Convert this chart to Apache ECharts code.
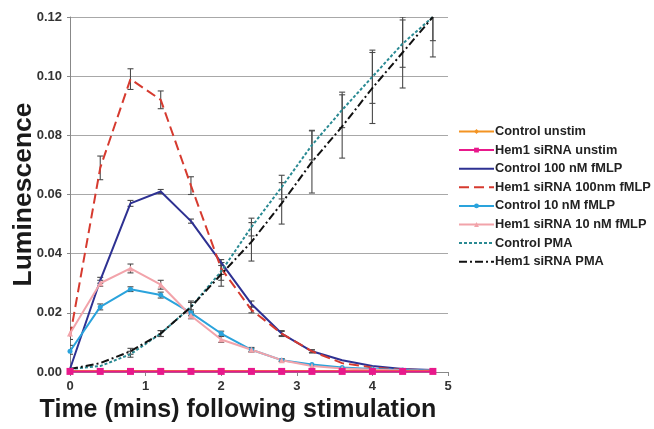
<!DOCTYPE html>
<html>
<head>
<meta charset="utf-8">
<script src="https://cdn.jsdelivr.net/npm/echarts@6/dist/echarts.min.js"></script>
<style>html,body{margin:0;padding:0;background:#fff;}#c{width:654px;height:429px;}</style>
</head>
<body>
<div id="c"></div>
<script>
const times = [0, 0.4, 0.8, 1.2, 1.6, 2.0, 2.4, 2.8, 3.2, 3.6, 4.0, 4.4, 4.8];
const xTicks = [0, 1, 2, 3, 4, 5];
const yTicks = [0, 0.02, 0.04, 0.06, 0.08, 0.10, 0.12];

const seriesNames = ['Control unstim', 'Hem1 siRNA unstim', 'Control 100 nM fMLP', 'Hem1 siRNA 100nm fMLP',
  'Control 10 nM fMLP', 'Hem1 siRNA 10 nM fMLP', 'Control PMA', 'Hem1 siRNA PMA'];

const controlUnstim = [0.0003, 0.0003, 0.0003, 0.0003, 0.0003, 0.0003, 0.0003, 0.0003, 0.0003, 0.0003, 0.0003, 0.0003, 0.0003];
const hem1Unstim    = [0.0002, 0.0002, 0.0002, 0.0002, 0.0002, 0.0002, 0.0002, 0.0002, 0.0002, 0.0002, 0.0002, 0.0002, 0.0002];
const control100    = [0.001, 0.031, 0.057, 0.061, 0.051, 0.037, 0.023, 0.013, 0.007, 0.004, 0.002, 0.001, 0.0007];
const hem1_100      = [0.012, 0.069, 0.099, 0.092, 0.063, 0.035, 0.021, 0.013, 0.007, 0.003, 0.0015, 0.0008, 0.0005];
const control10     = [0.007, 0.022, 0.028, 0.026, 0.020, 0.013, 0.0075, 0.004, 0.0025, 0.0015, 0.001, 0.0007, 0.0005];
const hem1_10       = [0.013, 0.030, 0.035, 0.0295, 0.019, 0.011, 0.0075, 0.004, 0.002, 0.0012, 0.0008, 0.0005, 0.0004];
const controlPMA    = [0.001, 0.002, 0.006, 0.013, 0.022, 0.034, 0.049, 0.0625, 0.0767, 0.0886, 0.0998, 0.111, 0.120];
const hem1PMA       = [0.001, 0.003, 0.007, 0.013, 0.022, 0.033, 0.044, 0.057, 0.071, 0.083, 0.096, 0.108, 0.120];

const err100    = [0, 0.001, 0.001, 0.0007, 0.0007, 0.001, 0.001, 0.0007, 0.0005, 0, 0, 0, 0];
const errH100   = [0.003, 0.004, 0.0035, 0.003, 0.003, 0.002, 0.001, 0.001, 0.0005, 0, 0, 0, 0];
const err10     = [0.001, 0.001, 0.0008, 0.001, 0.001, 0.0008, 0.0005, 0.0003, 0, 0, 0, 0, 0];
const errH10    = [0.002, 0.001, 0.0015, 0.0015, 0.001, 0.001, 0.0008, 0.0005, 0, 0, 0, 0, 0];
const errPMA    = [0, 0, 0.001, 0.001, 0.0015, 0.003, 0.003, 0.004, 0.005, 0.006, 0.009, 0.008, 0.008];
const errH_PMA  = [0, 0, 0.001, 0.001, 0.002, 0.004, 0.0065, 0.007, 0.0105, 0.0107, 0.012, 0.012, 0.0135];

const noMarker = ['Control 100 nM fMLP', 'Hem1 siRNA 100nm fMLP', 'Control PMA', 'Hem1 siRNA PMA'];

function pairs(vals) { return times.map((t, i) => [t, vals[i]]); }

function lineSeries(name, vals, color, type, symbol, symbolSize, width) {
  return {
    name: name, type: 'line', data: pairs(vals),
    symbol: symbol || 'none', symbolSize: symbolSize || 5,
    showSymbol: symbol ? true : false,
    itemStyle: { color: color },
    lineStyle: { color: color, width: width || 2, type: type || 'solid' },
    z: 3, animation: false
  };
}

function errSeries(vals, errs) {
  const data = [];
  times.forEach((t, i) => { if (errs[i] > 0) data.push([t, vals[i] - errs[i], vals[i] + errs[i]]); });
  return {
    type: 'custom', data: data, clip: true, silent: true, z: 2, animation: false,
    renderItem: function (params, api) {
      const x = api.value(0);
      const lo = api.coord([x, api.value(1)]);
      const hi = api.coord([x, api.value(2)]);
      const w = 3;
      const st = { stroke: '#4a4a4a', lineWidth: 1.1 };
      return {
        type: 'group',
        children: [
          { type: 'line', shape: { x1: lo[0], y1: lo[1], x2: hi[0], y2: hi[1] }, style: st },
          { type: 'line', shape: { x1: lo[0] - w, y1: lo[1], x2: lo[0] + w, y2: lo[1] }, style: st },
          { type: 'line', shape: { x1: hi[0] - w, y1: hi[1], x2: hi[0] + w, y2: hi[1] }, style: st }
        ]
      };
    },
    encode: { x: 0, y: [1, 2] }
  };
}

const chart = echarts.init(document.getElementById('c'), null, { renderer: 'canvas' });
chart.setOption({
  animation: false,
  backgroundColor: '#fff',
  textStyle: { fontFamily: 'Liberation Sans, Arial, sans-serif' },
  grid: { left: 70, right: 206, top: 17, bottom: 57, containLabel: false, outerBoundsMode: 'none' },
  legend: {
    data: seriesNames.map(n => noMarker.indexOf(n) >= 0 ? { name: n, itemStyle: { opacity: 0 } } : { name: n }),
    orient: 'vertical', left: 453, top: 120,
    itemWidth: 35, itemHeight: 6, itemGap: 5.6,
    textStyle: { fontSize: 12.8, fontWeight: 'bold', color: '#222', padding: [0, 0, 0, -4] },
    inactiveColor: '#ccc'
  },
  xAxis: {
    type: 'value', min: xTicks[0], max: xTicks[xTicks.length - 1], interval: 1,
    name: 'Time (mins) following stimulation', nameLocation: 'middle', nameGap: 26,
    nameTextStyle: { fontSize: 25, fontWeight: 'bold', color: '#1a1a1a', padding: [0, 42, 0, 0] },
    axisLine: { show: true, lineStyle: { color: '#888', width: 1 } },
    axisTick: { show: true, length: 4, lineStyle: { color: '#888' } },
    axisLabel: { fontSize: 13, fontWeight: 'bold', color: '#333', margin: 8 },
    splitLine: { show: false }
  },
  yAxis: {
    type: 'value', min: yTicks[0], max: yTicks[yTicks.length - 1], interval: 0.02,
    name: 'Luminescence', nameLocation: 'middle', nameGap: 33, nameMoveOverlap: false,
    nameTextStyle: { fontSize: 26.5, fontWeight: 'bold', color: '#1a1a1a' },
    axisLine: { show: true, lineStyle: { color: '#888', width: 1 } },
    axisTick: { show: true, length: 3, lineStyle: { color: '#888' } },
    axisLabel: { fontSize: 13, fontWeight: 'bold', color: '#333', margin: 8, formatter: v => v.toFixed(2) },
    splitLine: { show: true, lineStyle: { color: '#a8a8a8', width: 1 } }
  },
  series: [
    errSeries(control100, err100),
    errSeries(hem1_100, errH100),
    errSeries(control10, err10),
    errSeries(hem1_10, errH10),
    errSeries(controlPMA, errPMA),
    errSeries(hem1PMA, errH_PMA),
    lineSeries(seriesNames[2], control100, '#2e3192', 'solid', null, 0, 2),
    lineSeries(seriesNames[3], hem1_100, '#d63a2f', [10, 5], null, 0, 2),
    lineSeries(seriesNames[4], control10, '#2aa3dc', 'solid', 'circle', 5, 2),
    lineSeries(seriesNames[5], hem1_10, '#f2a3aa', 'solid', 'triangle', 6, 2),
    lineSeries(seriesNames[6], controlPMA, '#2a8a93', [3, 2], null, 0, 2),
    lineSeries(seriesNames[7], hem1PMA, '#111111', [8, 3, 2, 3], null, 0, 2),
    lineSeries(seriesNames[0], controlUnstim, '#f39322', 'solid', 'diamond', 6, 2),
    lineSeries(seriesNames[1], hem1Unstim, '#e8198b', 'solid', 'rect', 7, 2)
  ]
});
</script>
</body>
</html>
